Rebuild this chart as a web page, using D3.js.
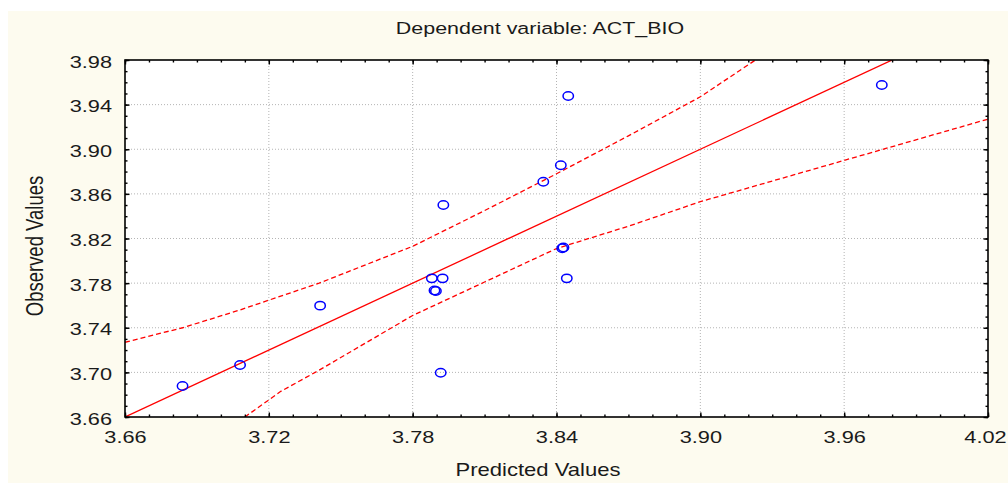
<!DOCTYPE html>
<html>
<head>
<meta charset="utf-8">
<script src="https://cdn.jsdelivr.net/npm/d3@7"></script>
<style>
  html, body { margin: 0; padding: 0; background: #ffffff; }
  svg { display: block; font-family: "Liberation Sans", Arial, sans-serif; }
</style>
</head>
<body>
<div id="chart"></div>
<script>
// observed vs predicted
const predicted = [3.684, 3.708, 3.7414, 3.7928, 3.788, 3.7925, 3.7891, 3.7897, 3.7917,
    3.8449, 3.8418, 3.8345, 3.8424, 3.8429, 3.8443, 3.9757];
const observed = [3.6878, 3.7066, 3.7598, 3.850, 3.7843, 3.7843, 3.7734, 3.7729, 3.6997,
    3.9477, 3.8856, 3.8709, 3.8112, 3.8119, 3.7843, 3.9576];

// fitted line end points
const fitX = [3.66, 4.02];
const fitY = [3.66, 4.02];

// 95% confidence band
const upperX = [3.66, 3.684, 3.708, 3.741, 3.78, 3.81, 3.84, 3.87, 3.90, 3.923];
const upperY = [3.727, 3.740, 3.756, 3.780, 3.813, 3.845, 3.878, 3.912, 3.947, 3.98];
const lowerX = [3.710, 3.725, 3.741, 3.78, 3.81, 3.84, 3.87, 3.90, 3.96, 4.02];
const lowerY = [3.66, 3.683, 3.702, 3.751, 3.781, 3.811, 3.831, 3.853, 3.890, 3.927];

const xTicks = [3.66, 3.72, 3.78, 3.84, 3.90, 3.96, 4.02];
const yTicks = [3.66, 3.70, 3.74, 3.78, 3.82, 3.86, 3.90, 3.94, 3.98];

const W = 1008, H = 485;
const pLeft = 125, pRight = 988, pTop = 60, pBottom = 417;
const fmt = d3.format('.2f');

const svg = d3.select('#chart')
    .append('svg')
    .attr('width', W)
    .attr('height', H);

// cream panel
svg.append('rect')
    .attr('x', 8).attr('y', 11)
    .attr('width', W - 8).attr('height', 472)
    .attr('fill', '#fdfbef');

svg.append('rect')
    .attr('x', pLeft).attr('y', pTop)
    .attr('width', pRight - pLeft).attr('height', pBottom - pTop)
    .attr('fill', '#ffffff');

const x = d3.scaleLinear().domain([3.66, 4.02]).range([pLeft, pRight]);
const y = d3.scaleLinear().domain([3.66, 3.98]).range([pBottom, pTop]);

// dotted grid
svg.append('g')
    .selectAll('line')
    .data(xTicks.slice(1, -1))
    .enter()
    .append('line')
    .attr('x1', d => x(d)).attr('x2', d => x(d))
    .attr('y1', pTop).attr('y2', pBottom)
    .attr('stroke', '#b4b4b4')
    .attr('stroke-dasharray', '1,2');

svg.append('g')
    .selectAll('line')
    .data(yTicks.slice(1, -1))
    .enter()
    .append('line')
    .attr('x1', pLeft).attr('x2', pRight)
    .attr('y1', d => y(d)).attr('y2', d => y(d))
    .attr('stroke', '#b4b4b4')
    .attr('stroke-dasharray', '1,2');

svg.append('clipPath')
    .attr('id', 'plot-clip')
    .append('rect')
    .attr('x', pLeft).attr('y', pTop)
    .attr('width', pRight - pLeft).attr('height', pBottom - pTop);

const plot = svg.append('g').attr('clip-path', 'url(#plot-clip)');

const line = d3.line()
    .x(d => x(d[0]))
    .y(d => y(d[1]));

plot.append('path')
    .datum(d3.zip(fitX, fitY))
    .attr('d', line)
    .attr('fill', 'none')
    .attr('stroke', '#ff0000')
    .attr('stroke-width', 1.3);

[[upperX, upperY], [lowerX, lowerY]].forEach(([bx, by]) => {
    plot.append('path')
        .datum(d3.zip(bx, by))
        .attr('d', line)
        .attr('fill', 'none')
        .attr('stroke', '#ff0000')
        .attr('stroke-width', 1.3)
        .attr('stroke-dasharray', '5,3');
});

plot.selectAll('.pt')
    .data(d3.zip(predicted, observed))
    .enter()
    .append('ellipse')
    .attr('class', 'pt')
    .attr('cx', d => x(d[0]))
    .attr('cy', d => y(d[1]))
    .attr('rx', 5.2)
    .attr('ry', 4.2)
    .attr('fill', 'none')
    .attr('stroke', '#0000ff')
    .attr('stroke-width', 1.5);

// ticks: major and minor on all four sides, pointing inward
function styleAxis(g) {
    g.select('.domain').remove();
    g.selectAll('line').attr('stroke', '#000').attr('stroke-width', 1.4);
}

const sides = [
    [d3.axisBottom(x), `translate(0,${pBottom})`, xTicks, x.ticks(36)],
    [d3.axisTop(x), `translate(0,${pTop})`, xTicks, x.ticks(36)],
    [d3.axisLeft(y), `translate(${pLeft},0)`, yTicks, y.ticks(32)],
    [d3.axisRight(y), `translate(${pRight},0)`, yTicks, y.ticks(32)]
];
sides.forEach(([axis, tr, major, minor]) => {
    svg.append('g')
        .attr('transform', tr)
        .call(axis.tickValues(minor).tickSize(-2.5).tickFormat(''))
        .call(styleAxis);
    svg.append('g')
        .attr('transform', tr)
        .call(axis.tickValues(major).tickSize(-4.5).tickFormat(''))
        .call(styleAxis);
});

// tick labels
const xLab = svg.append('g')
    .attr('transform', `translate(0,${pBottom})`)
    .call(d3.axisBottom(x).tickValues(xTicks).tickSize(0).tickFormat(fmt));
xLab.select('.domain').remove();
xLab.selectAll('text')
    .attr('y', null).attr('dy', null)
    .attr('transform', (d, i) => `translate(${i === xTicks.length - 1 ? -3 : 0},26) scale(1.28,1)`)
    .attr('fill', '#1a1a1a')
    .style('font-size', '17px');

const yLab = svg.append('g')
    .attr('transform', `translate(${pLeft},0)`)
    .call(d3.axisLeft(y).tickValues(yTicks).tickSize(0).tickFormat(fmt));
yLab.select('.domain').remove();
yLab.selectAll('text')
    .attr('x', null).attr('dy', '0.36em')
    .attr('transform', 'translate(-13,1) scale(1.28,1)')
    .attr('fill', '#1a1a1a')
    .style('font-size', '17px');

// frame
svg.append('rect')
    .attr('x', pLeft).attr('y', pTop)
    .attr('width', pRight - pLeft).attr('height', pBottom - pTop)
    .attr('fill', 'none')
    .attr('stroke', '#000')
    .attr('stroke-width', 1.6);

// titles
svg.append('text')
    .attr('transform', 'translate(540,34) scale(1.3,1)')
    .attr('text-anchor', 'middle')
    .attr('fill', '#1a1a1a')
    .style('font-size', '16.5px')
    .text('Dependent variable: ACT_BIO');

svg.append('text')
    .attr('transform', 'translate(538,476) scale(1.26,1)')
    .attr('text-anchor', 'middle')
    .attr('fill', '#1a1a1a')
    .style('font-size', '17.5px')
    .text('Predicted Values');

svg.append('text')
    .attr('transform', 'translate(43,246) scale(1.3,1) rotate(-90)')
    .attr('text-anchor', 'middle')
    .attr('fill', '#1a1a1a')
    .style('font-size', '18.5px')
    .text('Observed Values');
</script>
</body>
</html>
